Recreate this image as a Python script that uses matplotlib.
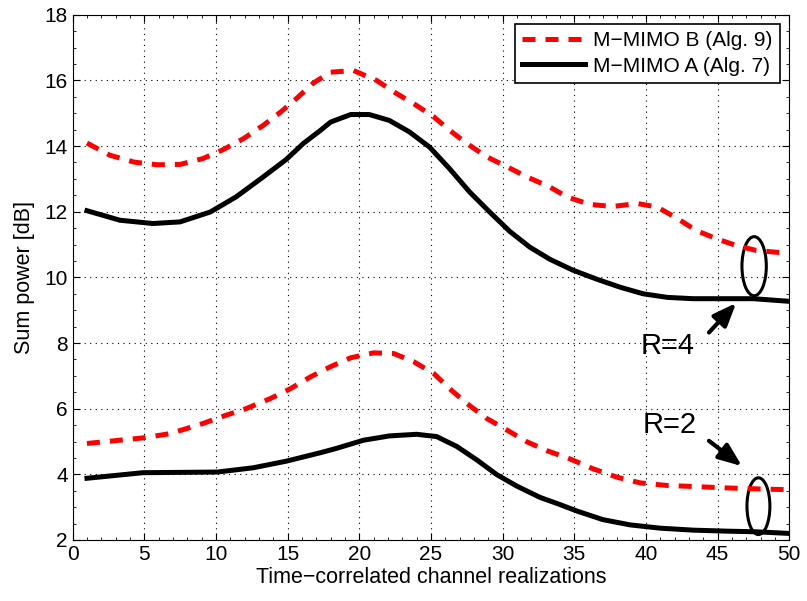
import numpy as np
import matplotlib.pyplot as plt
from matplotlib.patches import Ellipse
from matplotlib.ticker import MultipleLocator

plt.rcParams['font.family'] = ['Liberation Sans', 'DejaVu Sans']

# points (R=4 upper pair, R=2 lower pair)
x_b4 = [1.0, 2.6, 4.3, 5.9, 7.5, 9.1, 10.5, 11.9, 13.3, 14.5, 15.6, 16.8, 18.0, 19.6, 21.2,
        22.6, 23.8, 25.2, 26.3, 27.5, 28.9, 30.3, 31.7, 33.3, 34.5, 36.1, 37.7, 39.4, 40.8,
        42.2, 43.5, 44.9, 46.3, 47.7, 50.0]
y_b4 = [14.09, 13.72, 13.51, 13.43, 13.44, 13.62, 13.89, 14.22, 14.63, 15.03, 15.44, 15.92, 16.25,
        16.3, 16.0, 15.6, 15.29, 14.89, 14.48, 14.08, 13.67, 13.37, 13.06, 12.75, 12.45, 12.22,
        12.16, 12.25, 12.14, 11.79, 11.43, 11.18, 10.97, 10.82, 10.73]

x_a4 = [1.0, 3.3, 5.6, 7.5, 9.6, 11.4, 13.3, 14.9, 16.1, 17.3, 18.0, 19.4, 20.7, 22.1, 23.5,
        24.9, 26.3, 27.7, 29.1, 30.5, 31.9, 33.3, 34.9, 36.6, 38.2, 39.8, 41.5, 43.3, 45.4,
        47.5, 50.0]
y_a4 = [12.03, 11.74, 11.64, 11.69, 11.99, 12.45, 13.06, 13.59, 14.08, 14.48, 14.73, 14.96, 14.96,
        14.78, 14.43, 13.97, 13.31, 12.6, 11.99, 11.4, 10.92, 10.55, 10.22, 9.94, 9.7, 9.5,
        9.39, 9.35, 9.35, 9.35, 9.27]

x_b2 = [1.0, 3.3, 4.9, 6.8, 9.1, 10.7, 12.1, 13.8, 15.2, 16.6, 18.0, 19.4, 21.0, 22.4, 23.8,
        25.2, 26.3, 27.5, 28.9, 30.3, 31.7, 33.1, 34.7, 36.3, 38.0, 39.6, 41.5, 43.3, 45.4,
        47.5, 50.0]
y_b2 = [4.94, 5.04, 5.11, 5.24, 5.55, 5.8, 6.0, 6.31, 6.61, 6.97, 7.28, 7.55, 7.7, 7.68, 7.43,
        7.07, 6.61, 6.16, 5.7, 5.35, 4.99, 4.72, 4.47, 4.17, 3.91, 3.74, 3.66, 3.63, 3.59,
        3.56, 3.53]

x_a2 = [1.0, 4.9, 10.1, 12.6, 14.9, 17.3, 18.4, 20.3, 22.1, 24.0, 25.4, 26.8, 28.2, 29.6, 31.0,
        32.6, 34.0, 35.2, 37.0, 38.9, 41.0, 43.3, 45.6, 47.7, 50.0]
y_a2 = [3.88, 4.05, 4.07, 4.2, 4.4, 4.66, 4.79, 5.04, 5.17, 5.22, 5.15, 4.85, 4.44, 3.99, 3.64,
        3.3, 3.08, 2.88, 2.62, 2.46, 2.36, 2.3, 2.27, 2.25, 2.2]

fig = plt.figure(figsize=(8.07, 6.01), dpi=100)
ax = fig.add_axes([0.090, 0.1015, 0.888, 0.874])

lw = 3.6
ax.plot(x_b4, y_b4, color='red', lw=lw, dashes=(2.6, 2.0), label='M\u2212MIMO B (Alg. 9)')
ax.plot(x_a4, y_a4, color='black', lw=lw, label='M\u2212MIMO A (Alg. 7)')
ax.plot(x_b2, y_b2, color='red', lw=lw, dashes=(2.6, 2.0))
ax.plot(x_a2, y_a2, color='black', lw=lw)

ax.add_patch(Ellipse((47.55, 10.34), 1.7, 1.8, fill=False, lw=2.2, ec='black'))
ax.add_patch(Ellipse((47.85, 3.03), 1.6, 1.73, fill=False, lw=2.2, ec='black'))

arrow = dict(arrowstyle='-|>,head_length=0.5,head_width=0.2', lw=3, color='black',
             mutation_scale=28, shrinkA=0, shrinkB=0)
ax.annotate('', xy=(46.3, 9.22), xytext=(44.4, 8.32), arrowprops=arrow)
ax.annotate('', xy=(46.7, 4.25), xytext=(44.4, 5.02), arrowprops=arrow)
ax.text(39.6, 7.92, 'R=4', fontsize=21, va='center', ha='left')
ax.text(39.8, 5.51, 'R=2', fontsize=21, va='center', ha='left')

ax.set_xlim(0, 50)
ax.set_ylim(2, 18)
ax.xaxis.set_major_locator(MultipleLocator(5))
ax.yaxis.set_major_locator(MultipleLocator(2))
ax.xaxis.set_minor_locator(MultipleLocator(1))
ax.yaxis.set_minor_locator(MultipleLocator(0.5))
ax.tick_params(which='both', direction='in', top=True, right=True, labelsize=15)
ax.tick_params(which='major', length=5)
ax.tick_params(which='minor', length=2.5)
ax.grid(True, which='major', linestyle=(0, (1, 4)), color='black', lw=0.8)

ax.set_xlabel('Time\u2212correlated channel realizations', fontsize=15.5, labelpad=2.5)
ax.set_ylabel('Sum power [dB]', fontsize=15.5, labelpad=7)

leg = ax.legend(loc='upper right', fontsize=15, fancybox=False, edgecolor='black',
                framealpha=1, handlelength=3.0, borderaxespad=0.45, borderpad=0.35,
                labelspacing=0.3, handletextpad=0.4)
leg.get_frame().set_linewidth(1.2)

fig.savefig('out.png', dpi=100)
